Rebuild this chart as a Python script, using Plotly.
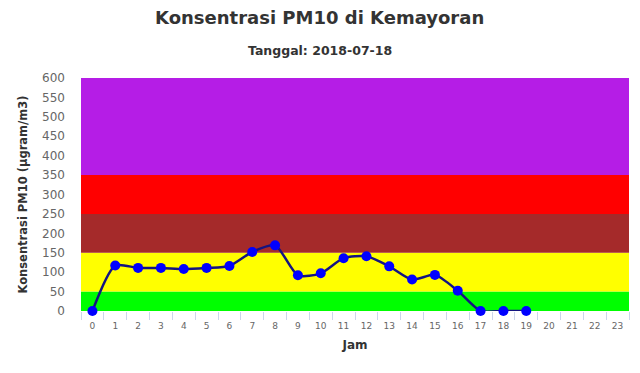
import plotly.graph_objects as go

hours = [str(h) for h in range(24)]
pm10_hours = [str(h) for h in range(20)]
pm10_values = [0, 117, 111, 111, 108, 111, 116, 152, 169, 92, 97, 136, 141, 115, 81, 93, 52, 0, 0, 0]

band_limits = [0, 50, 150, 250, 350, 600]
band_colors = ["#00ff00", "#ffff00", "#a52a2a", "#ff0000", "#b51de6"]

title_text = "Konsentrasi PM10 di Kemayoran"
subtitle_text = "Tanggal: 2018-07-18"
y_title = "Konsentrasi PM10 (µgram/m3)"
x_title = "Jam"

FONT = "DejaVu Sans"

fig = go.Figure()

fig.add_trace(go.Scatter(x=hours, y=[None] * len(hours), mode="markers",
                         showlegend=False, hoverinfo="skip"))

fig.add_trace(go.Scatter(
    x=pm10_hours, y=pm10_values, mode="lines+markers",
    line=dict(color="#141480", width=2.5, shape="spline", smoothing=0.7),
    marker=dict(color="#0000ff", size=10, line=dict(width=0)),
    cliponaxis=False, showlegend=False,
))

shapes = []
for i, col in enumerate(band_colors):
    shapes.append(dict(type="rect", xref="paper", yref="y", x0=0, x1=1,
                       y0=band_limits[i], y1=band_limits[i + 1],
                       fillcolor=col, line=dict(width=0), layer="below"))

fig.update_layout(
    width=632, height=365,
    margin=dict(l=73, r=11, t=70, b=62, autoexpand=False),
    paper_bgcolor="white", plot_bgcolor="white",
    font=dict(family=FONT, color="#333333"),
    shapes=shapes,
    annotations=[
        dict(text="<b>" + title_text + "</b>", xref="paper", yref="paper",
             x=0.436, y=1, xanchor="center", yanchor="middle",
             font=dict(size=18, color="#333333", family=FONT), showarrow=False,
             yshift=61),
        dict(text="<b>" + subtitle_text + "</b>", xref="paper", yref="paper",
             x=0.436, y=1, xanchor="center", yanchor="middle",
             font=dict(size=12.5, color="#333333", family=FONT), showarrow=False,
             yshift=28),
    ],
    xaxis=dict(
        type="category", categoryorder="array", categoryarray=hours,
        range=[-0.5, 23.5], showgrid=False, zeroline=False, automargin=False,
        ticks="outside", tickson="boundaries", ticklen=8, tickcolor="#ccd6eb",
        tickfont=dict(size=9, color="#666666", family=FONT),
        ticklabelstandoff=8,
        showline=False,
        title=dict(text="<b>" + x_title + "</b>", font=dict(size=12, color="#333333", family=FONT),
                   standoff=10),
    ),
    yaxis=dict(
        range=[0, 600], tickmode="linear", tick0=0, dtick=50, automargin=False,
        showgrid=False, zeroline=False, showline=False,
        tickfont=dict(size=12, color="#666666", family=FONT),
        ticks="", ticklabelstandoff=15,
        title=dict(text="<b>" + y_title + "</b>", font=dict(size=11.5, color="#333333", family=FONT),
                   standoff=12),
    ),
)

fig.write_html("out.html")
